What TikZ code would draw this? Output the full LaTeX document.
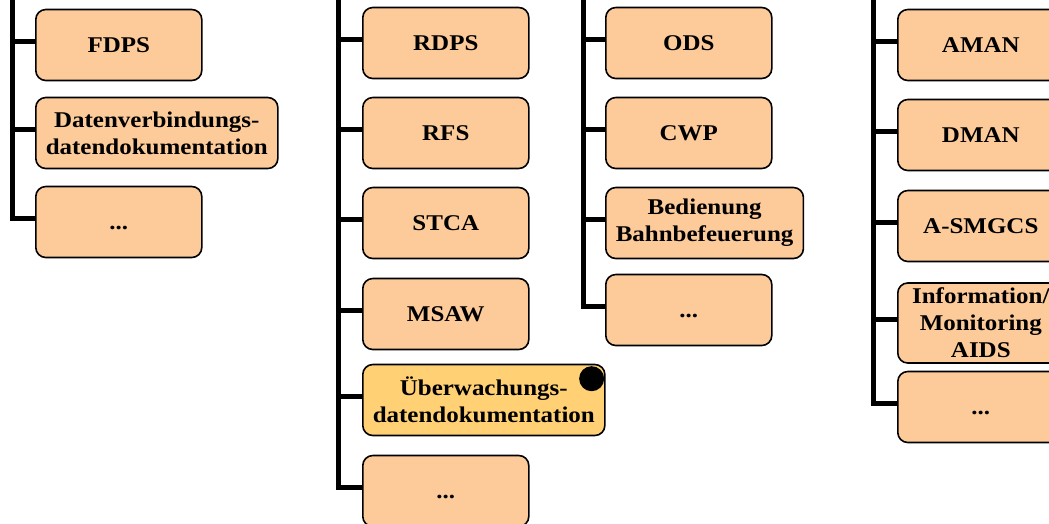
\documentclass[tikz,border=0pt]{standalone}
\usepackage{fontspec}
\setmainfont[FakeStretch=1.11]{Liberation Serif}
\usepackage{xcolor}

\definecolor{boxpeach}{HTML}{FCCB99}
\definecolor{boxgold}{HTML}{FFD074}

\tikzset{
  sysbox/.style={draw=black, line width=1.6pt, fill=boxpeach, rounded corners=10pt,
    anchor=west, align=center, minimum width=166pt, minimum height=71pt,
    inner xsep=10pt, inner ysep=5pt, font=\fontsize{22.5}{27}\selectfont\bfseries},
  markbox/.style={sysbox, fill=boxgold},
  trunk/.style={line width=5pt, draw=black}
}

\begin{document}
\begin{tikzpicture}[x=1pt, y=-1pt]
  \useasboundingbox (0,0) rectangle (1049,523);

  % trunk tops
  \coordinate (ftop) at (12,0);
  \coordinate (rtop) at (338,0);
  \coordinate (otop) at (583,0);
  \coordinate (atop) at (873,0);

  % first column
  \node[sysbox] (fdps) at (35,45) {FDPS};
  \node[sysbox] (fdat) at (35,133) {Datenverbindungs-\\datendokumentation};
  \node[sysbox] (fdots) at (35,222) {\vphantom{A}...};

  % second column
  \node[sysbox] (rdps) at (362,43) {RDPS};
  \node[sysbox] (rfs) at (362,133) {RFS};
  \node[sysbox] (stca) at (362,223) {STCA};
  \node[sysbox] (msaw) at (362,314) {MSAW};
  \node[markbox] (uew) at (362,400) {Überwachungs-\\datendokumentation};
  \node[sysbox] (rdots) at (362,491) {\vphantom{A}...};
  \fill[black] ([xshift=-14pt,yshift=-15pt]uew.north east) circle (12.5pt);

  % third column
  \node[sysbox] (ods) at (605,43) {ODS};
  \node[sysbox] (cwp) at (605,133) {CWP};
  \node[sysbox] (bed) at (605,223) {Bedienung\\Bahnbefeuerung};
  \node[sysbox] (odots) at (605,310) {\vphantom{A}...};

  % fourth column
  \node[sysbox] (aman) at (897,45) {AMAN};
  \node[sysbox] (dman) at (897,135) {DMAN};
  \node[sysbox] (asmgcs) at (897,226) {A-SMGCS};
  \node[sysbox] (aids) at (897,323) {Information/\\Monitoring\\AIDS};
  \node[sysbox] (adots) at (897,407) {\vphantom{A}...};

  % trunks and stubs
  \draw[trunk] (ftop) |- ([yshift=4pt]fdots.west);
  \foreach \b in {fdps,fdat}
    \draw[trunk] ([yshift=4pt]\b.west) -- ([yshift=4pt]\b.west -| ftop);

  \draw[trunk] (rtop) |- ([yshift=4pt]rdots.west);
  \foreach \b in {rdps,rfs,stca,msaw,uew}
    \draw[trunk] ([yshift=4pt]\b.west) -- ([yshift=4pt]\b.west -| rtop);

  \draw[trunk] (otop) |- ([yshift=4pt]odots.west);
  \foreach \b in {ods,cwp,bed}
    \draw[trunk] ([yshift=4pt]\b.west) -- ([yshift=4pt]\b.west -| otop);

  \draw[trunk] (atop) |- ([yshift=4pt]adots.west);
  \foreach \b in {aman,dman,asmgcs,aids}
    \draw[trunk] ([yshift=4pt]\b.west) -- ([yshift=4pt]\b.west -| atop);
\end{tikzpicture}
\end{document}
